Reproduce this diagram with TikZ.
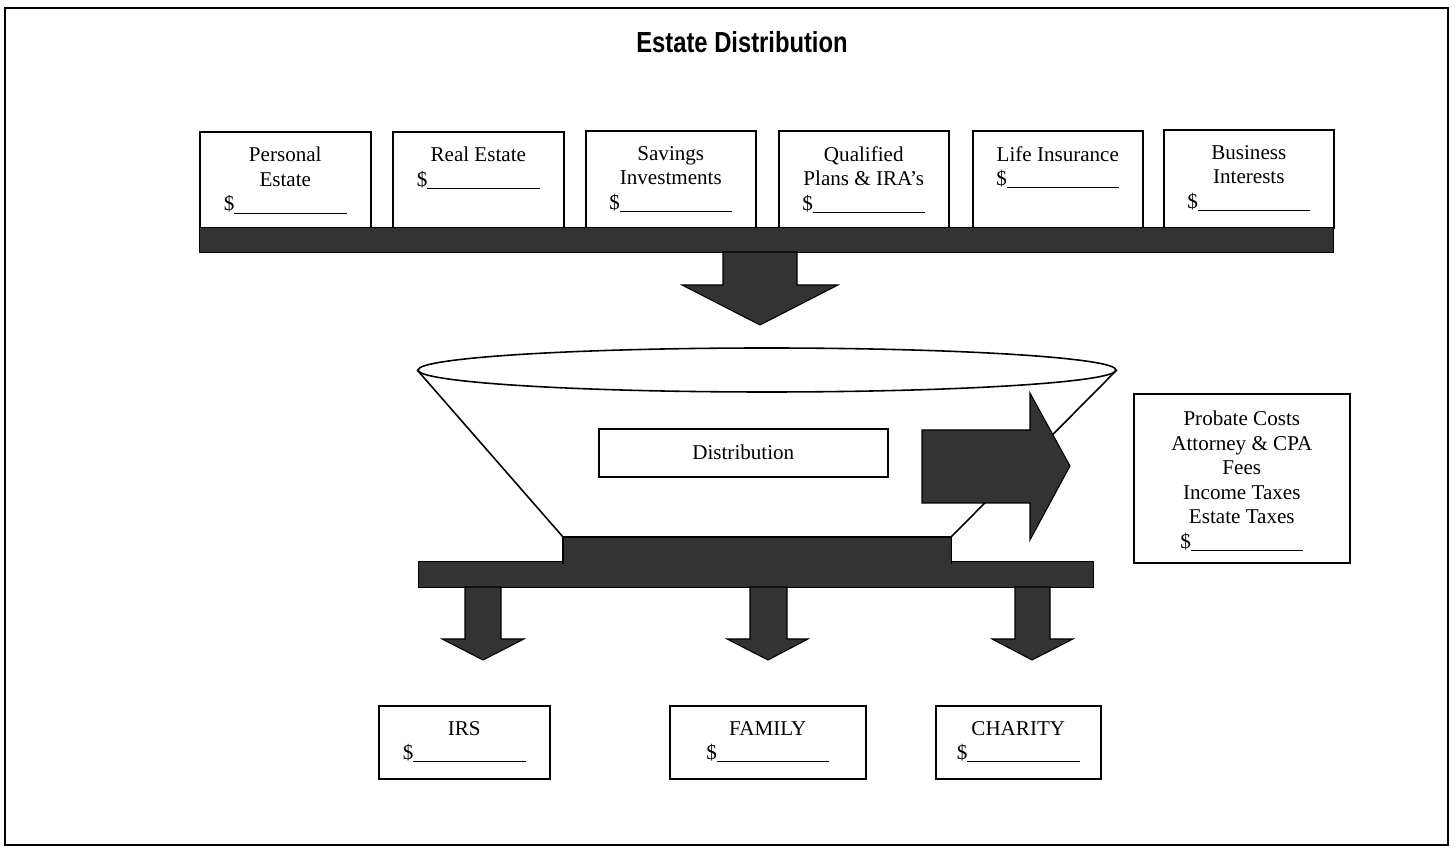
\documentclass[tikz,border=0pt]{standalone}
\usepackage{fontspec}
\setmainfont{Liberation Serif}
\newfontfamily\titlefont[FakeStretch=0.82]{Liberation Sans}
\usetikzlibrary{positioning,shapes.geometric}

\newcommand\pxu{0.02cm}
\newcommand\amount{\$\rule[-1.5pt]{64pt}{0.5pt}}
\colorlet{slab}{black!80}

\tikzset{
  box/.style={draw, line width=0.9pt, fill=white, anchor=north west, inner sep=0pt},
  txt/.style={align=center, inner sep=0pt, font=\fontsize{12}{14}\selectfont},
  bar/.style={draw, line width=0.6pt, fill=slab, anchor=north west, inner sep=0pt},
  blockarrow/.style={draw, line width=0.6pt, fill=slab}
}

\begin{document}
\begin{tikzpicture}[x=0.02cm, y=-0.02cm]
\useasboundingbox (0,0) rectangle (1455,847);
\draw[line width=1.2pt] (5,8) rectangle (1448,845);

\node[font=\titlefont\bfseries\fontsize{16.5}{19}\selectfont] (title) at (742,42) {Estate Distribution};

% assets
\node[box, minimum width=171*\pxu, minimum height=96*\pxu] (pe) at (199,131) {};
\node[box, minimum width=171*\pxu, minimum height=96*\pxu] (re) at (392,131) {};
\node[box, minimum width=170*\pxu, minimum height=97*\pxu] (si) at (585,130) {};
\node[box, minimum width=170*\pxu, minimum height=97*\pxu] (qp) at (778,130) {};
\node[box, minimum width=170*\pxu, minimum height=97*\pxu] (li) at (972,130) {};
\node[box, minimum width=170*\pxu, minimum height=98*\pxu] (bi) at (1163,129) {};

\node[txt, below=9pt of pe.north] (pet) {Personal\\Estate\\\amount};
\node[txt, below=9pt of re.north] (ret) {Real Estate\\\amount};
\node[txt, below=9pt of si.north] (sit) {Savings\\Investments\\\amount};
\node[txt, below=9pt of qp.north] (qpt) {Qualified\\Plans \& IRA’s\\\amount};
\node[txt, below=9pt of li.north] (lit) {Life Insurance\\\amount};
\node[txt, below=9pt of bi.north] (bit) {Business\\Interests\\\amount};

\node[bar, minimum width=1134*\pxu, minimum height=25*\pxu] (topbar) at (199,227) {};
\draw[blockarrow] (723,252) -- (797,252) -- (797,285) -- (838,285) -- (760,325)
  -- (682,285) -- (723,285) -- cycle;

% funnel
\node[draw, ellipse, line width=0.9pt, fill=white, inner sep=0pt,
  minimum width=698*\pxu, minimum height=44*\pxu] (rim) at (767,370) {};
\node[bar, minimum width=675*\pxu, minimum height=26*\pxu] (lowbar) at (418,561) {};
\node[bar, draw=none, minimum width=387*\pxu, minimum height=26*\pxu] (hub) at (563,537) {};
\draw[line width=0.6pt] (hub.south west) -- (hub.north west) -- (hub.north east) -- (hub.south east);
\draw[line width=0.9pt] (rim.west) -- (hub.north west);
\draw[line width=0.9pt] (rim.east) -- (hub.north east);

\node[box, minimum width=289*\pxu, minimum height=48*\pxu] (dist) at (598,428) {};
\node[txt] (distt) at (dist.center) {Distribution};

\draw[blockarrow] (922,430) -- (1030,430) -- (1030,393) -- (1070,466) -- (1030,540)
  -- (1030,503) -- (922,503) -- cycle;

\node[box, minimum width=216*\pxu, minimum height=169*\pxu] (cost) at (1133,393) {};
\node[txt, below=10pt of cost.north] (costt) {Probate Costs\\Attorney \& CPA\\Fees\\Income Taxes\\Estate Taxes\\\amount};

% outflows
\draw[blockarrow] (465,587) -- (501,587) -- (501,639) -- (524,639) -- (483,660)
  -- (442,639) -- (465,639) -- cycle;
\draw[blockarrow] (750,587) -- (787,587) -- (787,639) -- (808,639) -- (768,660)
  -- (727,639) -- (750,639) -- cycle;
\draw[blockarrow] (1015,587) -- (1050,587) -- (1050,639) -- (1073,639) -- (1032,660)
  -- (992,639) -- (1015,639) -- cycle;

\node[box, minimum width=171*\pxu, minimum height=73*\pxu] (irs) at (378,705) {};
\node[box, minimum width=196*\pxu, minimum height=73*\pxu] (fam) at (669,705) {};
\node[box, minimum width=165*\pxu, minimum height=73*\pxu] (cha) at (935,705) {};
\node[txt, below=9pt of irs.north] (irst) {IRS\\\amount};
\node[txt, below=9pt of fam.north] (famt) {FAMILY\\\amount};
\node[txt, below=9pt of cha.north] (chat) {CHARITY\\\amount};
\end{tikzpicture}
\end{document}
